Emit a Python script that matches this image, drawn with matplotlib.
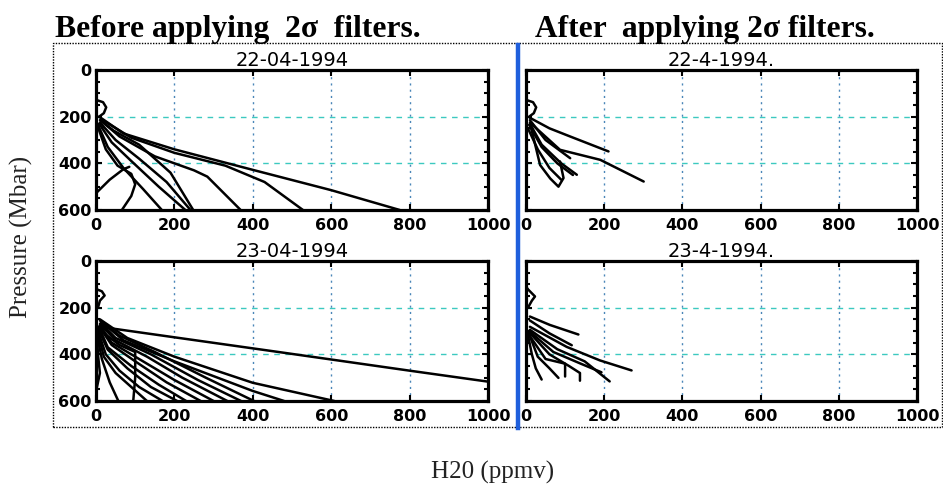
import matplotlib.pyplot as plt
from matplotlib.patches import Rectangle
from matplotlib.lines import Line2D
from matplotlib.ticker import MultipleLocator

# axis ticks
x_ticks = [0, 200, 400, 600, 800, 1000]
y_ticks = [0, 200, 400, 600]

# H2O (ppmv) and pressure (mbar) of each profile, before 2-sigma filtering, 22-04-1994
before_22_x = [
    [0, 18, 26, 20, 8],
    [8, 70, 200, 400, 600, 775],
    [12, 90, 200, 330, 430, 528],
    [15, 60, 150, 250, 284, 369],
    [10, 50, 110, 180, 241],
    [8, 40, 90, 160, 228],
    [5, 30, 70, 120, 168],
    [5, 25, 55, 90, 100, 90, 66],
    [0, 35, 70, 85],
    [10, 45, 110, 190, 248],
]
before_22_p = [
    [128, 138, 160, 185, 200],
    [200, 272, 340, 428, 515, 600],
    [210, 290, 355, 410, 480, 600],
    [220, 285, 370, 430, 457, 600],
    [225, 300, 380, 480, 600],
    [230, 310, 390, 500, 600],
    [235, 330, 420, 510, 600],
    [245, 340, 410, 445, 490, 540, 600],
    [528, 470, 425, 415],
    [215, 260, 320, 440, 600],
]

# before filtering, 23-04-1994
before_23_x = [
    [0, 15, 22, 10, 5],
    [15, 200, 470, 800, 1000],
    [10, 80, 200, 400, 608],
    [10, 70, 200, 400, 480],
    [15, 60, 150, 280, 403],
    [12, 50, 140, 260, 370],
    [10, 50, 130, 220, 335],
    [10, 40, 110, 200, 300],
    [8, 40, 100, 180, 267],
    [8, 30, 90, 160, 230],
    [5, 30, 80, 140, 207],
    [5, 25, 60, 110, 170],
    [5, 20, 50, 90, 130],
    [3, 15, 35, 57],
    [5, 60, 100, 100, 95],
    [2, 5, 10, 0],
]
before_23_p = [
    [120, 130, 148, 170, 200],
    [283, 327, 391, 470, 517],
    [250, 330, 410, 522, 600],
    [255, 340, 430, 557, 600],
    [260, 320, 390, 500, 600],
    [265, 330, 400, 510, 600],
    [270, 340, 410, 500, 600],
    [275, 350, 420, 510, 600],
    [280, 360, 430, 520, 600],
    [285, 370, 450, 530, 600],
    [290, 380, 460, 540, 600],
    [300, 400, 470, 540, 600],
    [310, 410, 480, 540, 600],
    [320, 420, 520, 600],
    [290, 360, 390, 500, 600],
    [300, 400, 480, 560],
]

# after filtering, 22-04-1994
after_22_x = [
    [0, 18, 26, 20, 8],
    [10, 60, 113, 211],
    [10, 50, 113],
    [10, 87, 190, 301],
    [10, 40, 90, 130],
    [12, 36, 62, 83, 96, 87],
    [8, 40, 80, 120],
    [5, 30, 60, 90],
]
after_22_p = [
    [128, 138, 160, 185, 200],
    [205, 250, 285, 349],
    [215, 300, 378],
    [225, 342, 385, 478],
    [230, 320, 400, 449],
    [240, 407, 465, 500, 463, 392],
    [235, 330, 400, 450],
    [250, 340, 420, 470],
]

# after filtering, 23-04-1994
after_23_x = [
    [0, 6, 23, 15, 5],
    [10, 61, 134],
    [10, 60, 117],
    [10, 104, 189, 270],
    [10, 80, 150, 214],
    [8, 70, 140, 193],
    [8, 60, 110, 138, 138],
    [5, 50, 100, 100],
    [5, 30, 60, 83],
    [3, 15, 25, 40],
]
after_23_p = [
    [110, 123, 152, 170, 200],
    [238, 274, 315],
    [255, 310, 361],
    [282, 368, 426, 469],
    [295, 378, 430, 516],
    [300, 390, 440, 477],
    [305, 400, 450, 480, 513],
    [310, 420, 440, 495],
    [300, 410, 460, 501],
    [300, 400, 460, 508],
]

W, H = 943, 486
fig = plt.figure(figsize=(W / 100, H / 100), dpi=100)


def fx(px):
    return px / W


def fy(py):
    return 1 - py / H


def draw_panel(left, top, right, bottom, title, xs, ps, show_ylabels):
    ax = fig.add_axes([fx(left), fy(bottom), fx(right) - fx(left), fy(top) - fy(bottom)])
    for x, p in zip(xs, ps):
        ax.plot(x, p, color='black', lw=1.8, solid_capstyle='round')
    ax.set_xlim(0, 1000)
    ax.set_ylim(600, 0)
    ax.set_xticks(x_ticks)
    ax.set_yticks(y_ticks)
    ax.yaxis.set_minor_locator(MultipleLocator(50))
    ax.grid(axis='x', color='#4a86b8', ls=(0, (1.5, 3)), lw=1)
    ax.grid(axis='y', color='#3cc9c0', ls=(0, (4, 4)), lw=1)
    ax.tick_params(which='both', direction='in', top=True, right=True, width=1.5)
    ax.tick_params(which='major', length=4, pad=6, labelsize=11.5)
    ax.tick_params(which='minor', length=3)
    for lab in ax.get_xticklabels() + ax.get_yticklabels():
        lab.set_fontweight('bold')
    if not show_ylabels:
        ax.set_yticklabels([])
    else:
        ax.tick_params(axis='y', pad=3)
    for s in ax.spines.values():
        s.set_linewidth(2.3)
    ax.set_title(title, fontsize=14, pad=2)
    return ax


draw_panel(96, 70, 488, 210, '22-04-1994', before_22_x, before_22_p, True)
draw_panel(96, 261, 488, 401, '23-04-1994', before_23_x, before_23_p, True)
draw_panel(526, 70, 917, 210, '22-4-1994.', after_22_x, after_22_p, False)
draw_panel(526, 261, 917, 401, '23-4-1994.', after_23_x, after_23_p, False)

# dotted frame and blue divider
fig.add_artist(Rectangle((fx(53), fy(427)), fx(942) - fx(53), fy(43) - fy(427),
                         transform=fig.transFigure, fill=False, ec='black',
                         ls=(0, (1, 1)), lw=1))
fig.add_artist(Line2D([fx(518), fx(518)], [fy(45), fy(428)], color='#1f5fdc', lw=3.2))

serif = 'Liberation Serif'
fig.text(fx(55), fy(29), 'Before applying  2σ  filters.', family=serif,
         fontweight='bold', fontsize=22.7, va='center', ha='left')
fig.text(fx(535), fy(29), 'After  applying 2σ filters.', family=serif,
         fontweight='bold', fontsize=22.7, va='center', ha='left')
fig.text(fx(21), fy(237), 'Pressure (Mbar)', family=serif, fontsize=18,
         rotation=90, va='center', ha='center', color='#222222')
fig.text(fx(493), fy(472), 'H20 (ppmv)', family=serif, fontsize=18,
         va='center', ha='center', color='#222222')

fig.savefig('out.png', dpi=100)
